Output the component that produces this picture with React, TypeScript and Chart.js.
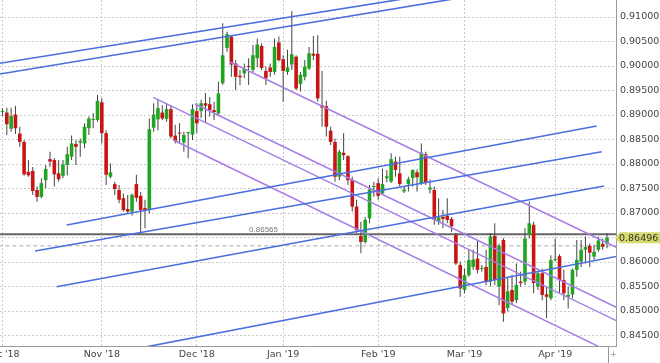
import React, { useEffect, useRef } from 'react';
import { Chart, registerables } from 'chart.js';

Chart.register(...registerables);

// Daily EUR/GBP-style candles, Oct 1 2018 .. Apr 17 2019 (trading days)
const opens = [
  0.8906, 0.8905, 0.8872, 0.8901, 0.8862, 0.8845, 0.8784, 0.8786, 0.8747, 0.8733,
  0.8767, 0.8810, 0.8808, 0.8781, 0.8776, 0.8798, 0.8815, 0.8841, 0.8844, 0.8842,
  0.8873, 0.8890, 0.8890, 0.8926, 0.8863, 0.8774, 0.8759, 0.8747, 0.8730, 0.8708,
  0.8703, 0.8759, 0.8735, 0.8710, 0.8708, 0.8874, 0.8891, 0.8905, 0.8892, 0.8912,
  0.8858, 0.8863, 0.8844, 0.8863, 0.8860, 0.8908, 0.8908, 0.8924, 0.8922, 0.8910,
  0.8903, 0.8965, 0.9037, 0.9060, 0.9005, 0.8980, 0.8985, 0.8999, 0.8992, 0.9016,
  0.9041, 0.8990, 0.8997, 0.8988, 0.9048, 0.9014, 0.8988, 0.9003, 0.9019, 0.8963,
  0.8978, 0.8995, 0.9025, 0.9025, 0.8920, 0.8918, 0.8868, 0.8845, 0.8774, 0.8823,
  0.8816, 0.8767, 0.8713, 0.8653, 0.8641, 0.8689, 0.8753, 0.8761, 0.8740, 0.8771,
  0.8764, 0.8805, 0.8781, 0.8744, 0.8759, 0.8771, 0.8783, 0.8761, 0.8820, 0.8748,
  0.8747, 0.8682, 0.8692, 0.8694, 0.8688, 0.8655, 0.8594, 0.8543, 0.8573, 0.8590,
  0.8607, 0.8586, 0.8590, 0.8560, 0.8653, 0.8550, 0.8645, 0.8506, 0.8543, 0.8522,
  0.8560, 0.8560, 0.8655, 0.8676, 0.8550, 0.8577, 0.8534, 0.8526, 0.8604, 0.8612,
  0.8563, 0.8529, 0.8534, 0.8584, 0.8601, 0.8625, 0.8633, 0.8611, 0.8625, 0.8637,
  0.8637,
];
const highs = [
  0.8914, 0.8915, 0.8915, 0.8919, 0.8876, 0.8849, 0.8808, 0.8794, 0.8754, 0.8771,
  0.8798, 0.8825, 0.8812, 0.8808, 0.8808, 0.8835, 0.8858, 0.8849, 0.8852, 0.8883,
  0.8897, 0.8904, 0.8941, 0.8934, 0.8869, 0.8801, 0.8764, 0.8757, 0.8740, 0.8737,
  0.8740, 0.8778, 0.8743, 0.8727, 0.8893, 0.8924, 0.8931, 0.8920, 0.8924, 0.8920,
  0.8880, 0.8883, 0.8866, 0.8866, 0.8922, 0.8924, 0.8931, 0.8945, 0.8937, 0.8927,
  0.8968, 0.9087, 0.9070, 0.9063, 0.9012, 0.8992, 0.9005, 0.9016, 0.9043, 0.9056,
  0.9046, 0.8999, 0.9005, 0.9056, 0.9060, 0.9022, 0.9033, 0.9112, 0.9022, 0.8988,
  0.9012, 0.9039, 0.9061, 0.9063, 0.8990, 0.8929, 0.8876, 0.8852, 0.8829, 0.8863,
  0.8818, 0.8774, 0.8727, 0.8682, 0.8692, 0.8757, 0.8764, 0.8771, 0.8791, 0.8788,
  0.8822, 0.8815, 0.8815, 0.8754, 0.8774, 0.8789, 0.8789, 0.8842, 0.8825, 0.8769,
  0.8754, 0.8730, 0.8706, 0.8730, 0.8692, 0.8659, 0.8601, 0.8587, 0.8625, 0.8625,
  0.8645, 0.8594, 0.8625, 0.8659, 0.8679, 0.8638, 0.8649, 0.8570, 0.8574, 0.8597,
  0.8580, 0.8669, 0.8723, 0.8682, 0.8580, 0.8587, 0.8550, 0.8614, 0.8648, 0.8616,
  0.8584, 0.8550, 0.8587, 0.8645, 0.8645, 0.8652, 0.8638, 0.8635, 0.8652, 0.8648,
  0.8659,
];
const lows = [
  0.8898, 0.8859, 0.8866, 0.8861, 0.8835, 0.8776, 0.8774, 0.8737, 0.8723, 0.8730,
  0.8750, 0.8794, 0.8754, 0.8764, 0.8771, 0.8777, 0.8808, 0.8798, 0.8815, 0.8832,
  0.8859, 0.8873, 0.8886, 0.8842, 0.8757, 0.8771, 0.8737, 0.8720, 0.8703, 0.8699,
  0.8695, 0.8723, 0.8658, 0.8669, 0.8699, 0.8866, 0.8869, 0.8890, 0.8886, 0.8852,
  0.8842, 0.8842, 0.8825, 0.8812, 0.8849, 0.8863, 0.8894, 0.8884, 0.8897, 0.8890,
  0.8900, 0.8961, 0.9029, 0.8978, 0.8951, 0.8961, 0.8975, 0.8961, 0.8988, 0.8998,
  0.8992, 0.8961, 0.8978, 0.8982, 0.9009, 0.8927, 0.8982, 0.8992, 0.8951, 0.8948,
  0.8971, 0.8992, 0.9012, 0.8927, 0.8876, 0.8856, 0.8839, 0.8764, 0.8767, 0.8808,
  0.8757, 0.8703, 0.8659, 0.8618, 0.8638, 0.8679, 0.8733, 0.8727, 0.8737, 0.8763,
  0.8761, 0.8774, 0.8754, 0.8741, 0.8744, 0.8754, 0.8744, 0.8757, 0.8757, 0.8740,
  0.8676, 0.8676, 0.8669, 0.8679, 0.8662, 0.8594, 0.8529, 0.8536, 0.8570, 0.8584,
  0.8577, 0.8580, 0.8553, 0.8550, 0.8553, 0.8512, 0.8478, 0.8499, 0.8512, 0.8516,
  0.8550, 0.8553, 0.8648, 0.8536, 0.8543, 0.8522, 0.8485, 0.8522, 0.8601, 0.8536,
  0.8522, 0.8505, 0.8526, 0.8570, 0.8590, 0.8597, 0.8590, 0.8604, 0.8621, 0.8625,
  0.8628,
];
const closes = [
  0.8908, 0.8881, 0.8898, 0.8873, 0.8845, 0.8779, 0.8777, 0.8745, 0.8733, 0.8761,
  0.8790, 0.8805, 0.8779, 0.8769, 0.8799, 0.8820, 0.8842, 0.8835, 0.8847, 0.8876,
  0.8893, 0.8891, 0.8929, 0.8863, 0.8778, 0.8783, 0.8749, 0.8727, 0.8706, 0.8703,
  0.8737, 0.8731, 0.8706, 0.8706, 0.8871, 0.8901, 0.8914, 0.8893, 0.8912, 0.8856,
  0.8847, 0.8862, 0.8859, 0.8863, 0.8912, 0.8883, 0.8924, 0.8919, 0.8910, 0.8906,
  0.8944, 0.9022, 0.9065, 0.9003, 0.8978, 0.8977, 0.8994, 0.8998, 0.9022, 0.9044,
  0.8996, 0.8975, 0.8988, 0.9039, 0.9012, 0.8990, 0.8997, 0.9024, 0.8954, 0.8982,
  0.8999, 0.9026, 0.9021, 0.8934, 0.8915, 0.8876, 0.8845, 0.8774, 0.8825, 0.8818,
  0.8767, 0.8713, 0.8665, 0.8641, 0.8686, 0.8748, 0.8755, 0.8735, 0.8759, 0.8775,
  0.8810, 0.8788, 0.8759, 0.8748, 0.8769, 0.8788, 0.8773, 0.8823, 0.8762, 0.8752,
  0.8686, 0.8691, 0.8688, 0.8686, 0.8673, 0.8597, 0.8546, 0.8573, 0.8604, 0.8605,
  0.8584, 0.8588, 0.8560, 0.8652, 0.8563, 0.8633, 0.8495, 0.8540, 0.8519, 0.8553,
  0.8557, 0.8648, 0.8679, 0.8557, 0.8577, 0.8533, 0.8529, 0.8604, 0.8606, 0.8563,
  0.8536, 0.8533, 0.8584, 0.8604, 0.8625, 0.8631, 0.8619, 0.8621, 0.8644, 0.8631,
  0.86496,
];

const monthLabels = ["Oct '18", "Nov '18", "Dec '18", "Jan '19", "Feb '19", "Mar '19", "Apr '19"];
const monthStartIndex = [0, 23, 45, 65, 87, 107, 128];
const priceTicks = [
  0.845, 0.85, 0.855, 0.86, 0.865, 0.87, 0.875, 0.88, 0.885, 0.89, 0.895, 0.9, 0.905, 0.91,
];

const lastPrice = 0.86496;
const levelPrice = 0.86565;
const dashedLevel = 0.8633;

// trend lines: [startIndex, startValue, endIndex, endValue]
const blueLines = [
  [-1.74, 0.90039, 93.2, 0.91374],
  [-1.74, 0.8982, 105.95, 0.9139],
  [14.87, 0.86755, 137.61, 0.88776],
  [7.53, 0.86225, 138.77, 0.88251],
  [12.55, 0.85496, 139.3, 0.87551],
  [31.84, 0.84245, 143.01, 0.86129],
];
const purpleLines = [
  [52.69, 0.90082, 143.01, 0.86263],
  [44.58, 0.89224, 143.01, 0.85039],
  [34.92, 0.89361, 143.01, 0.84767],
  [39.56, 0.8849, 140.69, 0.84163],
];

const X_MIN = -0.58;
const X_MAX = 142.08;
const Y_MIN = 0.84286;
const Y_MAX = 0.91347;

const GREEN = '#1fa51f';
const RED = '#c91414';
const WICK = '#444444';
const BLUE = '#4a6ee0';
const PURPLE = '#a77de6';
const FONT = 'DejaVu Sans';

const overlayPlugin = {
  id: 'overlay',
  afterDraw(chart: any) {
    const { ctx, scales, chartArea } = chart;
    const x = scales.x;
    const y = scales.y;
    ctx.save();
    // level label
    ctx.font = `8px "Liberation Sans"`;
    ctx.fillStyle = '#777';
    ctx.textAlign = 'right';
    ctx.textBaseline = 'alphabetic';
    ctx.fillText(levelPrice.toFixed(5), x.getPixelForValue(63.8), y.getPixelForValue(levelPrice) - 2.5);

    // price tag
    const py = y.getPixelForValue(lastPrice);
    const left = chartArea.right;
    ctx.fillStyle = '#d5da6c';
    ctx.beginPath();
    ctx.moveTo(left - 1, py);
    ctx.lineTo(left + 4, py - 5.5);
    ctx.lineTo(chart.width, py - 5.5);
    ctx.lineTo(chart.width, py + 5.5);
    ctx.lineTo(left + 4, py + 5.5);
    ctx.closePath();
    ctx.fill();
    ctx.fillStyle = '#333';
    ctx.font = `9.5px "${FONT}"`;
    ctx.textAlign = 'left';
    ctx.textBaseline = 'middle';
    ctx.fillText(lastPrice.toFixed(5), left + 3, py + 0.5);

    // current-bar marker below the axis
    const lx = Math.round(x.getPixelForValue(opens.length - 1) + 1) + 0.5;
    ctx.strokeStyle = '#999';
    ctx.lineWidth = 1;
    ctx.beginPath();
    ctx.moveTo(lx, chartArea.bottom);
    ctx.lineTo(lx, chart.height);
    ctx.stroke();
    ctx.fillStyle = '#999';
    ctx.font = `9px "${FONT}"`;
    ctx.textAlign = 'center';
    ctx.fillText('+', lx + 5, chartArea.bottom + 9);
    ctx.restore();
  },
};

export default function App() {
  const ref = useRef<HTMLCanvasElement>(null);

  useEffect(() => {
    if (!ref.current) return;
    const idx = opens.map((_, i) => i);
    const wickData = idx.map((i) => ({ x: i, y: [lows[i], highs[i]] }));
    const bodyData = idx.map((i) => ({ x: i, y: [opens[i], closes[i]] }));
    const bodyColors = idx.map((i) => (closes[i] >= opens[i] ? GREEN : RED));

    const lineSets: any[] = [];
    blueLines.forEach((l) =>
      lineSets.push({
        type: 'line',
        data: [{ x: l[0], y: l[1] }, { x: l[2], y: l[3] }],
        borderColor: BLUE,
        borderWidth: 1.6,
        pointRadius: 0,
        fill: false,
        order: 0,
      })
    );
    purpleLines.forEach((l) =>
      lineSets.push({
        type: 'line',
        data: [{ x: l[0], y: l[1] }, { x: l[2], y: l[3] }],
        borderColor: PURPLE,
        borderWidth: 1.5,
        pointRadius: 0,
        fill: false,
        order: 0,
      })
    );

    const chart = new Chart(ref.current, {
      type: 'bar',
      data: {
        datasets: [
          ...lineSets,
          {
            type: 'bar',
            data: bodyData as any,
            backgroundColor: bodyColors,
            barThickness: 3.6,
            grouped: false,
            minBarLength: 1,
            borderWidth: 0,
            inflateAmount: 0,
            order: 1,
          } as any,
          {
            type: 'bar',
            data: wickData as any,
            backgroundColor: WICK,
            barThickness: 1,
            grouped: false,
            borderWidth: 0,
            inflateAmount: 0,
            order: 2,
          } as any,
          {
            type: 'line',
            data: [{ x: X_MIN - 2, y: levelPrice }, { x: X_MAX + 2, y: levelPrice }],
            borderColor: '#666',
            borderWidth: 2,
            pointRadius: 0,
            fill: false,
            order: 3,
          } as any,
          {
            type: 'line',
            data: [{ x: X_MIN - 2, y: dashedLevel }, { x: X_MAX + 2, y: dashedLevel }],
            borderColor: '#aaa',
            borderWidth: 1,
            borderDash: [4, 3],
            pointRadius: 0,
            fill: false,
            order: 4,
          } as any,
        ],
      },
      options: {
        animation: false,
        responsive: false,
        devicePixelRatio: 1,
        layout: { padding: 0 },
        plugins: { legend: { display: false }, tooltip: { enabled: false } },
        events: [],
        scales: {
          x: {
            type: 'linear',
            min: X_MIN,
            max: X_MAX,
            offset: false,
            grid: { offset: false, color: '#c9c9c9', drawTicks: false },
            border: { display: true, color: '#9a9a9a', dash: [2, 2] },
            ticks: {
              autoSkip: false,
              maxRotation: 0,
              padding: 3,
              color: '#444',
              font: { family: FONT, size: 9.5 },
              callback: (v: any) => {
                const k = monthStartIndex.indexOf(Number(v));
                return k >= 0 ? monthLabels[k] : '';
              },
            },
            afterBuildTicks: (s: any) => {
              s.ticks = monthStartIndex.map((v) => ({ value: v }));
            },
            afterFit: (s: any) => {
              s.height = 17;
              s.paddingLeft = 0;
              s.paddingRight = 0;
            },
          },
          y: {
            type: 'linear',
            position: 'right',
            min: Y_MIN,
            max: Y_MAX,
            beginAtZero: false,
            grid: { color: '#c9c9c9', drawTicks: false },
            border: { display: true, color: '#9a9a9a', dash: [2, 2] },
            ticks: {
              padding: 4,
              color: '#444',
              font: { family: FONT, size: 9.5 },
              callback: (v: any) => Number(v).toFixed(5),
            },
            afterBuildTicks: (s: any) => {
              s.ticks = priceTicks.map((v) => ({ value: v }));
            },
            afterFit: (s: any) => {
              s.width = 44;
              s.paddingTop = 0;
              s.paddingBottom = 0;
            },
          },
        },
      } as any,
      plugins: [overlayPlugin],
    });
    return () => chart.destroy();
  }, []);

  return (
    <div style={{ position: 'absolute', left: 0, top: 0, width: 660, height: 363, background: '#fff' }}>
      <canvas ref={ref} width={660} height={363} style={{ display: 'block', width: 660, height: 363 }} />
    </div>
  );
}
